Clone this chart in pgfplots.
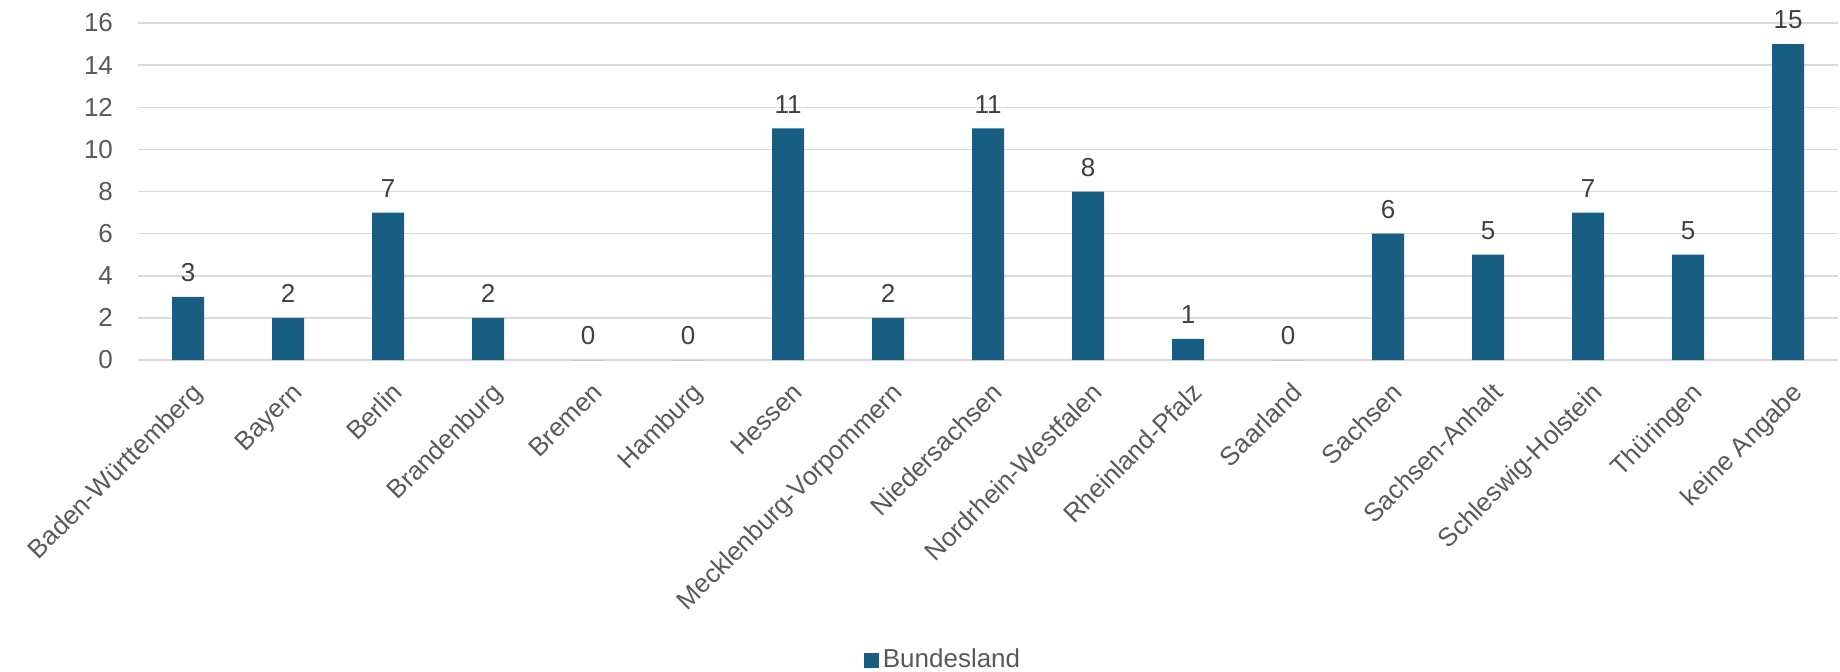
\documentclass[border=0pt]{standalone}
\usepackage{pgfplots}
\pgfplotsset{compat=1.18}
\usepackage{fontspec}
\setmainfont{Liberation Sans}
\definecolor{barc}{HTML}{175E82}
\definecolor{gridc}{HTML}{D9D9D9}
\definecolor{labc}{HTML}{595959}
\definecolor{valc}{HTML}{404040}
\begin{document}
\begin{tikzpicture}
\useasboundingbox (0,0) rectangle (920pt,335.5pt);
\begin{axis}[
  at={(69pt,155.5pt)}, anchor=south west,
  scale only axis, width=850pt, height=168.5pt,
  ybar, bar width=16pt,
  xmin=-0.5, xmax=16.5, ymin=0, ymax=16,
  ytick={0,2,...,16},
  xtick=data,
  xticklabels={Baden-Württemberg,Bayern,Berlin,Brandenburg,Bremen,Hamburg,Hessen,Mecklenburg-Vorpommern,Niedersachsen,Nordrhein-Westfalen,Rheinland-Pfalz,Saarland,Sachsen,Sachsen-Anhalt,Schleswig-Holstein,Thüringen,keine Angabe},
  axis line style={draw=none},
  ymajorgrids, grid style={gridc, line width=0.75pt},
  major tick length=0pt,
  /pgf/number format/assume math mode=true,
  tick label style={font=\fontsize{13}{15}\selectfont, text=labc},
  yticklabel style={anchor=east, xshift=-9pt},
  xticklabel style={rotate=45, anchor=north east, yshift=-5pt, xshift=-3pt},
  nodes near coords,
  every node near coord/.append style={font=\fontsize{13}{15}\selectfont, text=valc, anchor=center, yshift=12pt},
  legend style={at={(0.5,0)}, anchor=center, yshift=-150pt, xshift=-22pt, draw=none, fill=none, font=\fontsize{13}{15}\selectfont, text=labc},
  legend image code/.code={\fill[barc] (0pt,-3.75pt) rectangle (7.5pt,3.75pt);},
]
\draw[gridc, line width=0.75pt] (axis cs:-0.5,0) -- (axis cs:16.5,0);
\addplot[fill=barc, draw=none] coordinates {
(0,3) (1,2) (2,7) (3,2) (4,0) (5,0) (6,11) (7,2) (8,11) (9,8) (10,1) (11,0) (12,6) (13,5) (14,7) (15,5) (16,15)
};
\addlegendentry{Bundesland}
\end{axis}
\end{tikzpicture}
\end{document}
